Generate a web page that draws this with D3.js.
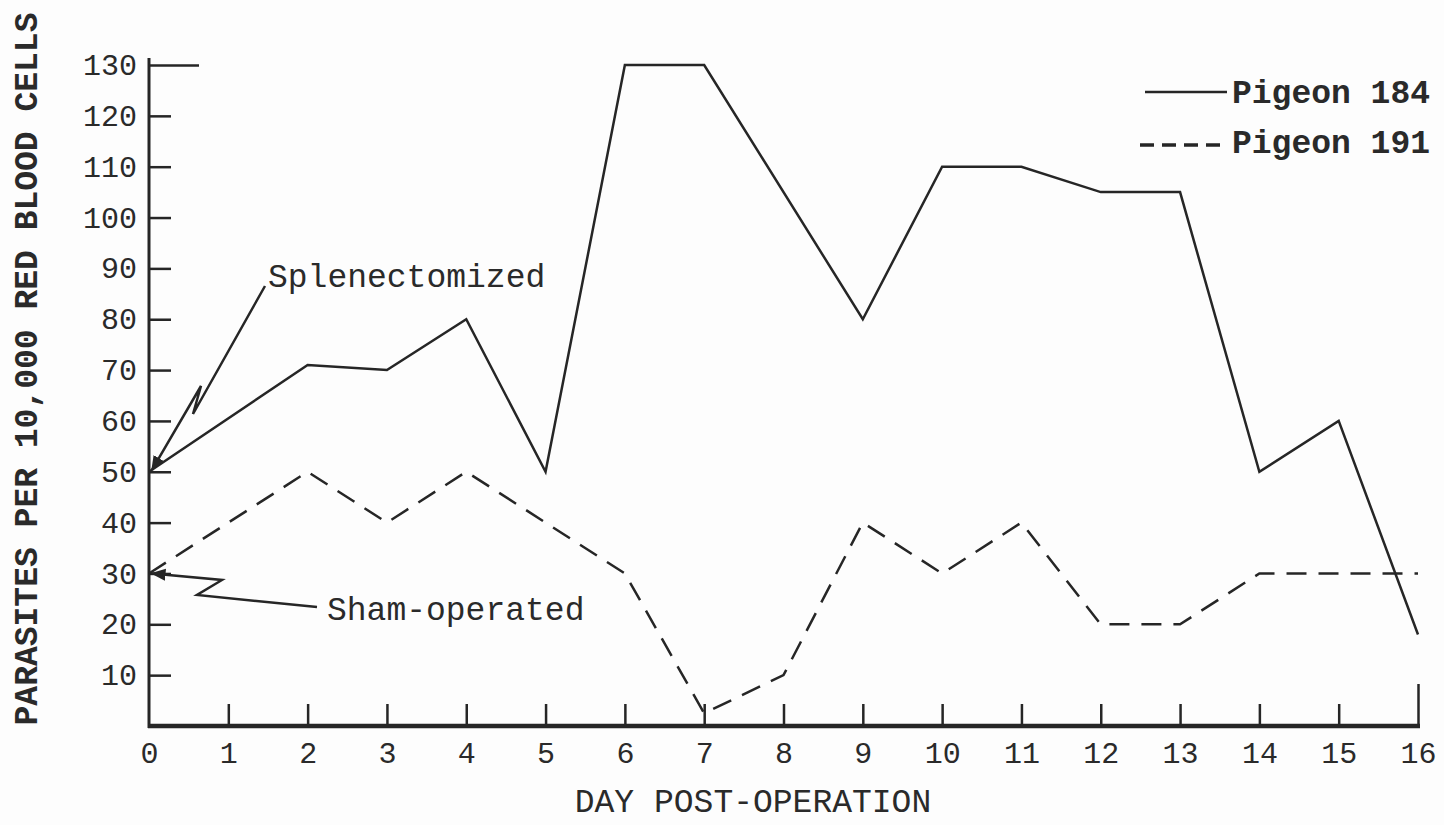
<!DOCTYPE html>
<html>
<head>
<meta charset="utf-8">
<script src="https://cdn.jsdelivr.net/npm/d3@7"></script>
<style>
  html, body { margin: 0; padding: 0; background: #fdfdfd; }
  svg { display: block; }
  text { font-family: "Liberation Mono", "DejaVu Sans Mono", monospace; fill: #2a2a2a; }
</style>
</head>
<body>
<div id="chart"></div>
<script>
const days184 = [0, 2, 3, 4, 5, 6, 7, 9, 10, 11, 12, 13, 14, 15, 16];
const pigeon184 = [50, 71, 70, 80, 50, 130, 130, 80, 110, 110, 105, 105, 50, 60, 18];

const days191 = [0, 2, 3, 4, 6, 7, 8, 9, 10, 11, 12, 13, 14, 15, 16];
const pigeon191 = [30, 50, 40, 50, 30, 2.5, 10, 40, 30, 40, 20, 20, 30, 30, 30];

const xTicks = d3.range(0, 17);
const yTicks = [10, 20, 30, 40, 50, 60, 70, 80, 90, 100, 110, 120, 130];

const seriesNames = ["Pigeon 184", "Pigeon 191"];

const W = 1444, H = 825;
const ink = "#262626";

const svg = d3.select("#chart").append("svg")
    .attr("width", W)
    .attr("height", H);

const x = d3.scaleLinear().domain([0, 16]).range([149, 1418]);
const y = d3.scaleLinear().domain([0, 130]).range([726, 65]);

// y axis: ticks point into the plot
const yAxis = svg.append("g")
    .attr("transform", `translate(${x(0)},0)`)
    .call(d3.axisLeft(y).tickValues(yTicks).tickSizeInner(-22).tickSizeOuter(0).tickPadding(12));
yAxis.select(".domain").remove();
yAxis.selectAll(".tick line").attr("stroke", ink).attr("stroke-width", 2.5)
    .attr("x2", d => d === 130 ? 50 : 22);
yAxis.selectAll(".tick text")
    .attr("font-size", 30)
    .attr("fill", ink);

svg.append("line")
    .attr("x1", x(0)).attr("x2", x(0))
    .attr("y1", 58).attr("y2", y(0) + 2)
    .attr("stroke", ink).attr("stroke-width", 3);

// x axis: ticks point up
const xAxis = svg.append("g")
    .attr("transform", `translate(0,${y(0)})`)
    .call(d3.axisBottom(x).tickValues(xTicks).tickSizeInner(-22).tickSizeOuter(0).tickPadding(16));
xAxis.select(".domain").remove();
xAxis.selectAll(".tick line").attr("stroke", ink).attr("stroke-width", 2.5)
    .attr("y2", d => d === 16 ? -42 : (d === 0 ? 0 : -22));
xAxis.selectAll(".tick text")
    .attr("font-size", 30)
    .attr("fill", ink);

svg.append("line")
    .attr("x1", x(0) - 1).attr("x2", x(16) + 2)
    .attr("y1", y(0)).attr("y2", y(0))
    .attr("stroke", ink).attr("stroke-width", 4.5);

// axis titles
svg.append("text")
    .attr("transform", `translate(28,${369}) rotate(-90)`)
    .attr("text-anchor", "middle")
    .attr("dominant-baseline", "central")
    .attr("font-size", 33)
    .attr("font-weight", "bold")
    .text("PARASITES PER 10,000 RED BLOOD CELLS");

svg.append("text")
    .attr("x", 753)
    .attr("y", 812)
    .attr("text-anchor", "middle")
    .attr("font-size", 33)
    .text("DAY POST-OPERATION");

// lines
const line = d3.line().x(d => x(d[0])).y(d => y(d[1]));

svg.append("path")
    .datum(d3.zip(days184, pigeon184))
    .attr("fill", "none")
    .attr("stroke", ink)
    .attr("stroke-width", 2.5)
    .attr("stroke-linejoin", "miter")
    .attr("d", line);

svg.append("path")
    .datum(d3.zip(days191, pigeon191))
    .attr("fill", "none")
    .attr("stroke", ink)
    .attr("stroke-width", 2.5)
    .attr("stroke-dasharray", "20,12")
    .attr("d", line);

// legend
const legend = svg.append("g");
legend.append("line")
    .attr("x1", 1145).attr("x2", 1227).attr("y1", 92).attr("y2", 92)
    .attr("stroke", ink).attr("stroke-width", 2.5);
legend.append("line")
    .attr("x1", 1140).attr("x2", 1222).attr("y1", 145).attr("y2", 145)
    .attr("stroke", ink).attr("stroke-width", 3.5)
    .attr("stroke-dasharray", "14,8");
legend.selectAll("text.lbl")
    .data(seriesNames)
    .join("text")
    .attr("class", "lbl")
    .attr("x", 1232)
    .attr("y", (d, i) => 103 + i * 50)
    .attr("font-size", 33)
    .attr("font-weight", "bold")
    .text(d => d);

// annotation arrows
svg.append("defs").append("marker")
    .attr("id", "tip")
    .attr("viewBox", "0 0 10 10")
    .attr("refX", 9).attr("refY", 5)
    .attr("markerWidth", 6).attr("markerHeight", 6)
    .attr("markerUnits", "strokeWidth")
    .attr("orient", "auto")
    .append("path")
    .attr("d", "M0,1 L10,5 L0,9 Z")
    .attr("fill", ink);

const tipS = [x(0) + 3, y(50) - 2];
svg.append("path")
    .attr("fill", "none")
    .attr("stroke", ink)
    .attr("stroke-width", 2.5)
    .attr("marker-end", "url(#tip)")
    .attr("d", d3.line()([[265, 286], [193, 414], [201, 386], tipS]));

svg.append("text")
    .attr("x", 268).attr("y", 287)
    .attr("font-size", 33)
    .text("Splenectomized");

const tipH = [x(0) + 3, y(30)];
svg.append("path")
    .attr("fill", "none")
    .attr("stroke", ink)
    .attr("stroke-width", 2.5)
    .attr("marker-end", "url(#tip)")
    .attr("d", d3.line()([[317, 607], [197, 595], [222, 580], tipH]));

svg.append("text")
    .attr("x", 327).attr("y", 620)
    .attr("font-size", 33)
    .text("Sham-operated");
</script>
</body>
</html>
